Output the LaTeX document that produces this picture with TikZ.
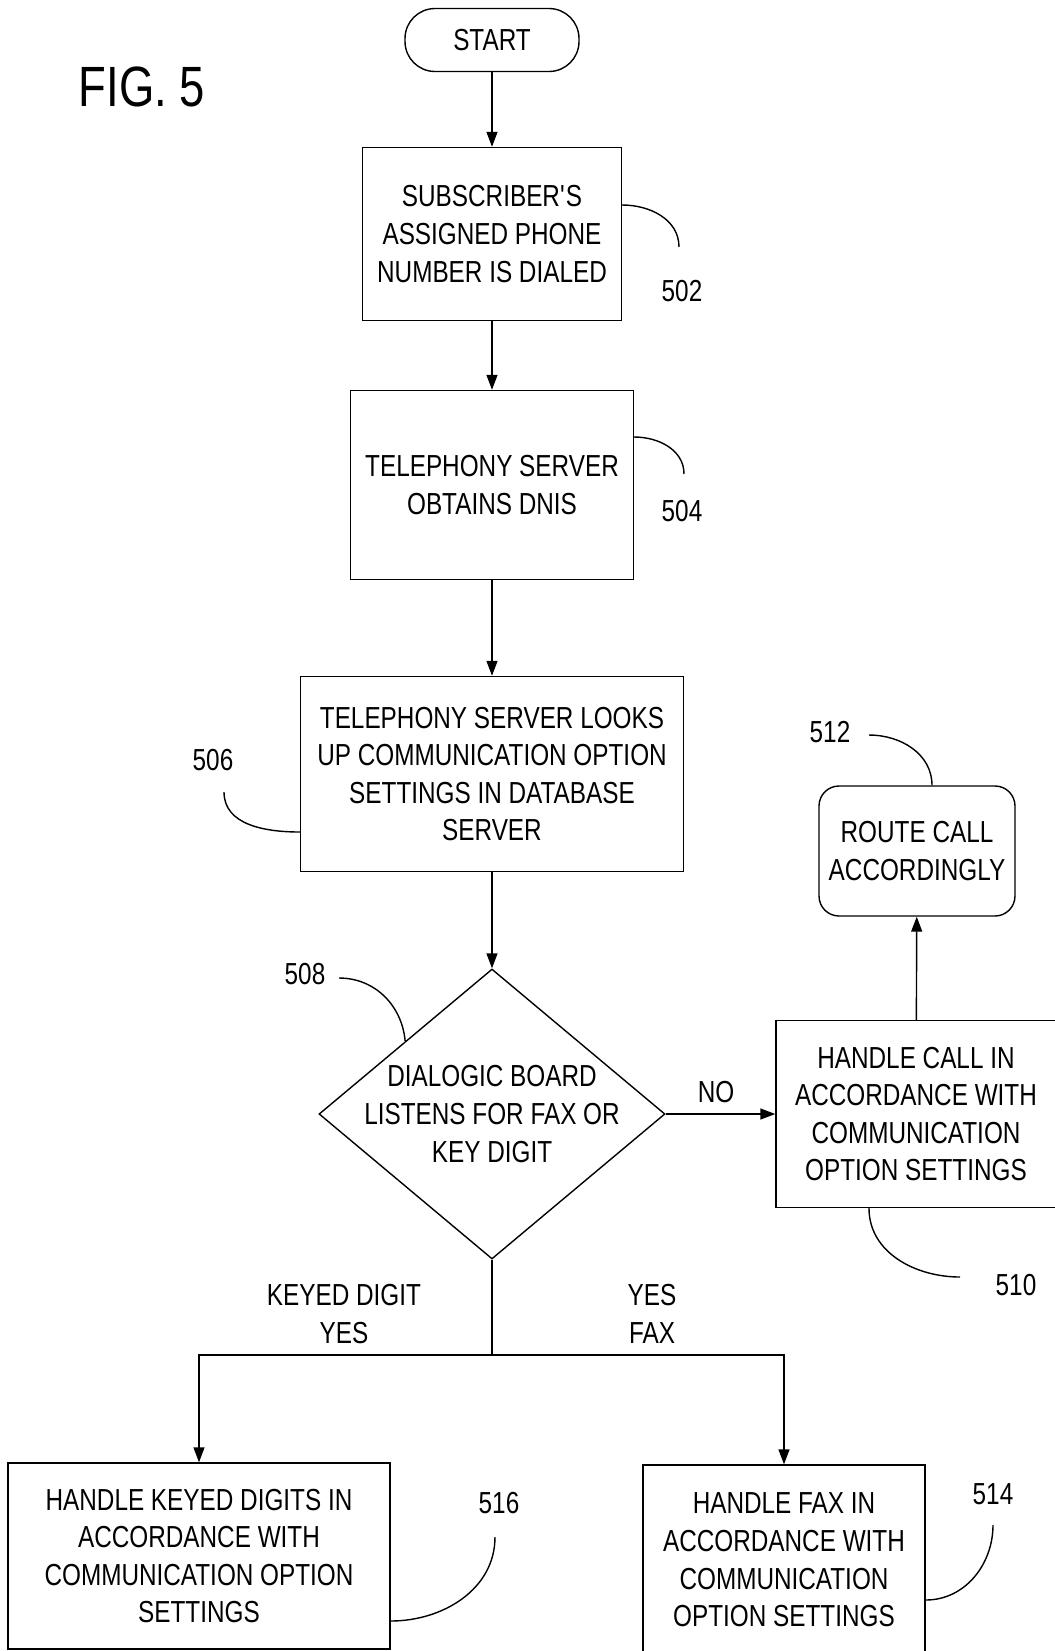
\documentclass[tikz,border=0pt]{standalone}
\usepackage{fontspec}
\setmainfont{Liberation Sans}[FakeStretch=0.8]
\usetikzlibrary{arrows.meta,shapes.geometric}
\tikzset{>/.tip={Triangle[length=7.5pt,width=5.5pt]},
  every path/.style={line width=0.7pt},
  txt/.style={font=\fontsize{15.2}{18.8}\selectfont, align=center},
  box/.style={txt, draw, inner sep=2pt},
  refnum/.style={font=\fontsize{15.2}{18.8}\selectfont}}

\begin{document}
\begin{tikzpicture}[x=0.5pt, y=-0.5pt]
\useasboundingbox (0,0) rectangle (1055,1651);
\node[font=\fontsize{28.4}{30}\selectfont] (fig) at (142,87) {FIG. 5};

\node[box, rounded corners=15pt, minimum width=87pt, minimum height=31.5pt] (start) at (492,40) {START};
\node[box, minimum width=129.5pt, minimum height=86.5pt] (s502) at (492,234) {SUBSCRIBER\textquotesingle S\\ASSIGNED PHONE\\NUMBER IS DIALED};
\node[box, minimum width=141.5pt, minimum height=94.5pt] (s504) at (492,485) {TELEPHONY SERVER\\OBTAINS DNIS};
\node[box, minimum width=191.5pt, minimum height=97.5pt] (s506) at (492,774) {TELEPHONY SERVER LOOKS\\UP COMMUNICATION OPTION\\SETTINGS IN DATABASE\\SERVER};
\node[box, diamond, aspect=1.19, inner sep=-4pt, minimum width=173pt, minimum height=145pt] (d508) at (492,1114) {DIALOGIC BOARD\\LISTENS FOR FAX OR\\KEY DIGIT};
\node[box, minimum width=140pt, minimum height=93.5pt] (s510) at (916,1114) {HANDLE CALL IN\\ACCORDANCE WITH\\COMMUNICATION\\OPTION SETTINGS};
\node[box, rounded corners=10pt, minimum width=98pt, minimum height=65pt] (s512) at (917,851) {ROUTE CALL\\ACCORDINGLY};
\node[box, minimum width=191pt, minimum height=93pt] (s516) at (199,1556) {HANDLE KEYED DIGITS IN\\ACCORDANCE WITH\\COMMUNICATION OPTION\\SETTINGS};
\node[box, minimum width=141pt, minimum height=95pt] (s514) at (784,1560) {HANDLE FAX IN\\ACCORDANCE WITH\\COMMUNICATION\\OPTION SETTINGS};
\coordinate (j) at (492,1355);

\node[txt] (no) at (716,1092) {NO};
\node[txt] (keyed) at (344,1314) {KEYED DIGIT\\YES};
\node[txt] (fax) at (652,1314) {YES\\FAX};

\node[refnum] (l502) at (682,291) {502};
\node[refnum] (l504) at (682,511) {504};
\node[refnum] (l506) at (213,760) {506};
\node[refnum] (l508) at (305,974) {508};
\node[refnum] (l510) at (1016,1285) {510};
\node[refnum] (l512) at (830,732) {512};
\node[refnum] (l516) at (499,1503) {516};
\node[refnum] (l514) at (993,1494) {514};

\draw[->] (start) to (s502);
\draw[->] (s502) to (s504);
\draw[->] (s504) to (s506);
\draw[->] (s506) to (d508);
\draw[->] (d508) to (s510);
\draw[->] (s510) to (s512);
\draw (d508.south) to (j);
\draw[->] (j) -| (s516);
\draw[->] (j) -| (s514);

% leaders to the reference numbers
\coordinate (t502) at (679,247);
\coordinate (t504) at (684,474);
\coordinate (t506) at (224,792);
\coordinate (t508) at (339,978);
\coordinate (t510) at (960,1277);
\coordinate (t512) at (869,735);
\coordinate (t516) at (495,1537);
\coordinate (t514) at (993,1525);
\draw ([yshift=14.5pt]s502.east) to[out=0, in=90] (t502);
\draw ([yshift=24pt]s504.east) to[out=0, in=90] (t504);
\draw (t506) to[out=-90, in=180] ([yshift=-29pt]s506.west);
\draw (t508) to[out=0, in=95] (d508.north west);
\draw (t512) to[out=0, in=90] ([xshift=7.5pt]s512.north);
\draw ([xshift=-23.5pt]s510.south) to[out=-90, in=180] (t510);
\draw ([yshift=-32.5pt]s516.east) to[out=0, in=-90] (t516);
\draw ([yshift=-20pt]s514.east) to[out=0, in=-90] (t514);
\end{tikzpicture}
\end{document}
